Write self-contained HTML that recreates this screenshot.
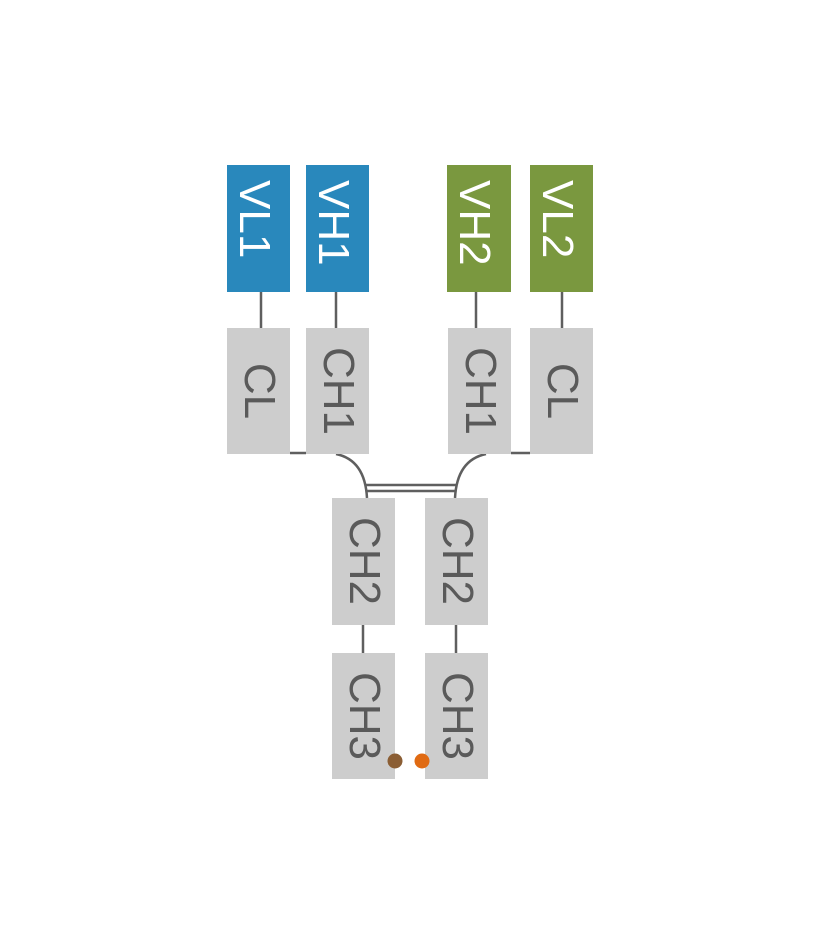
<!DOCTYPE html>
<html><head><meta charset="utf-8"><style>
html,body{margin:0;padding:0;background:#fff;}
svg{display:block;}
text{font-family:"Liberation Sans",sans-serif;font-size:44px;}
</style></head><body>
<svg width="820" height="945" viewBox="0 0 820 945" xmlns="http://www.w3.org/2000/svg">
<g stroke="#5f5f5f" stroke-width="2.5" fill="none">
<line x1="261" y1="292" x2="261" y2="328"/>
<line x1="336" y1="292" x2="336" y2="328"/>
<line x1="476" y1="292" x2="476" y2="328"/>
<line x1="562" y1="292" x2="562" y2="328"/>
<line x1="290" y1="453" x2="306" y2="453"/>
<line x1="511" y1="453" x2="530" y2="453"/>
<path d="M336 454 Q365 460 367 498"/>
<path d="M486 454 Q457 460 455 498"/>
<line x1="366" y1="485" x2="456" y2="485"/>
<line x1="367" y1="491" x2="455" y2="491"/>
<line x1="363" y1="625" x2="363" y2="653"/>
<line x1="456" y1="625" x2="456" y2="653"/>
</g>
<g fill="#2988bc">
<rect x="227" y="165" width="63" height="127"/>
<rect x="306" y="165" width="63" height="127"/>
</g>
<g fill="#7a983f">
<rect x="447" y="165" width="64" height="127"/>
<rect x="530" y="165" width="63" height="127"/>
</g>
<g fill="#cdcdcd">
<rect x="227" y="328" width="63" height="126"/>
<rect x="306" y="328" width="63" height="126"/>
<rect x="448" y="328" width="63" height="126"/>
<rect x="530" y="328" width="63" height="126"/>
<rect x="332" y="498" width="63" height="127"/>
<rect x="425" y="498" width="63" height="127"/>
<rect x="332" y="653" width="63" height="126"/>
<rect x="425" y="653" width="63" height="126"/>
</g>
<g fill="#fff">
<text transform="translate(240,180) rotate(90)">VL1</text>
<text transform="translate(319,180) rotate(90)">VH1</text>
<text transform="translate(460,180) rotate(90)">VH2</text>
<text transform="translate(543,180) rotate(90)">VL2</text>
</g>
<g fill="#5a5a5a" text-anchor="middle">
<text transform="translate(245,391) rotate(90)">CL</text>
<text transform="translate(324,391) rotate(90)">CH1</text>
<text transform="translate(466,391) rotate(90)">CH1</text>
<text transform="translate(548,391) rotate(90)">CL</text>
<text transform="translate(350,561) rotate(90)">CH2</text>
<text transform="translate(443,561) rotate(90)">CH2</text>
<text transform="translate(350,716) rotate(90)">CH3</text>
<text transform="translate(443,716) rotate(90)">CH3</text>
</g>
<circle cx="395" cy="761" r="7.5" fill="#8b5e34"/>
<circle cx="422" cy="761" r="7.5" fill="#e06a12"/>
</svg>
</body></html>
